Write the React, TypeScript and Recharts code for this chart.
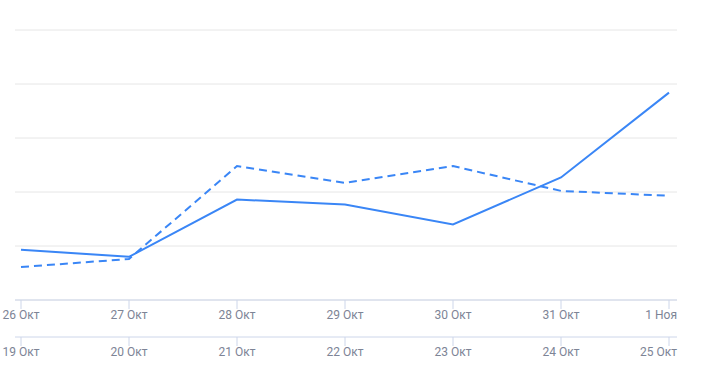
import React from "react";
import { LineChart, Line, XAxis, YAxis, CartesianGrid } from "recharts";

const currentDays = ["26 Окт", "27 Окт", "28 Окт", "29 Окт", "30 Окт", "31 Окт", "1 Ноя"];
const previousDays = ["19 Окт", "20 Окт", "21 Окт", "22 Окт", "23 Окт", "24 Окт", "25 Окт"];
const currentValues = [9.3, 8.0, 18.6, 17.7, 14.0, 22.7, 38.4];
const previousValues = [6.1, 7.6, 24.8, 21.7, 24.8, 20.2, 19.3];
const yTicks = [0, 10, 20, 30, 40, 50];

const data = currentDays.map((d, i) => ({
  cur: d,
  prev: previousDays[i],
  curVal: currentValues[i],
  prevVal: previousValues[i],
}));

const BLUE = "#3a86f6";
const AXIS = "#cdd6ea";
const LABEL = "#7d8496";

const Tick = (props: any) => {
  const { x, y, payload, index, visibleTicksCount } = props;
  const last = index === visibleTicksCount - 1;
  return (
    <text
      x={last ? x + 8 : x}
      y={y}
      dy="0.71em"
      textAnchor={last ? "end" : "middle"}
      fill={LABEL}
      fontSize={12}
      fontFamily="Roboto, sans-serif"
    >
      {payload.value}
    </text>
  );
};

export default function App() {
  return (
    <div style={{ position: "absolute", left: 0, top: 0 }}>
      <LineChart
        width={703}
        height={375}
        data={data}
        margin={{ top: 30, right: 26, bottom: 8, left: 15 }}
      >
        <CartesianGrid vertical={false} stroke="#e6e6e6" />
        <YAxis hide domain={[0, 50]} ticks={yTicks} />
        <XAxis
          xAxisId="cur"
          dataKey="cur"
          height={37}
          padding={{ left: 6, right: 8 }}
          stroke={AXIS}
          tickLine={{ stroke: AXIS }}
          tickSize={9}
          tickMargin={1}
          interval={0}
          tick={<Tick />}
        />
        <XAxis
          xAxisId="prev"
          dataKey="prev"
          height={30}
          padding={{ left: 6, right: 8 }}
          stroke={AXIS}
          tickLine={{ stroke: AXIS }}
          tickSize={9}
          tickMargin={1}
          interval={0}
          tick={<Tick />}
        />
        <Line
          xAxisId="prev"
          dataKey="prevVal"
          stroke={BLUE}
          strokeWidth={2}
          strokeDasharray="8 5"
          dot={false}
          isAnimationActive={false}
          type="linear"
        />
        <Line
          xAxisId="cur"
          dataKey="curVal"
          stroke={BLUE}
          strokeWidth={2}
          dot={false}
          isAnimationActive={false}
          type="linear"
        />
      </LineChart>
    </div>
  );
}
